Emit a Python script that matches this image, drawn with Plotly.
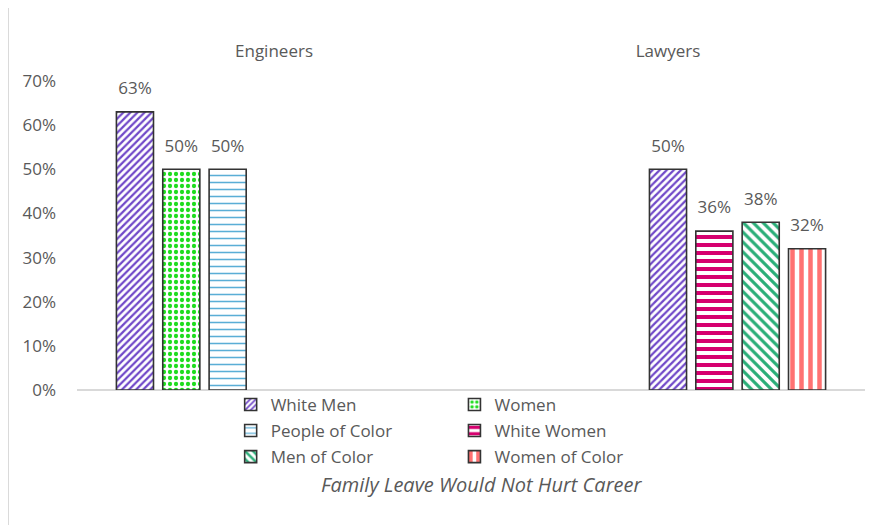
import plotly.graph_objects as go

# data
categories = ["Engineers", "Lawyers"]
engineer_groups = ["White Men", "Women", "People of Color"]
engineer_values = [63, 50, 50]
lawyer_groups = ["White Men", "White Women", "Men of Color", "Women of Color"]
lawyer_values = [50, 36, 38, 32]
y_ticks = [0, 10, 20, 30, 40, 50, 60, 70]
x_title = "Family Leave Would Not Hurt Career"

# colour, pattern shape, pattern size, solidity
styles = {
    "White Men": ("#7048C8", "/", 5, 0.45),
    "Women": ("#1EDC1E", ".", 6, 0.4),
    "People of Color": ("#5AAED6", "-", 7, 0.22),  # wavy in the original
    "White Women": ("#D6006F", "-", 8, 0.5),
    "Men of Color": ("#2AAE78", "\\", 7, 0.45),
    "Women of Color": ("#FF7272", "|", 9, 0.5),
}
second_column = {"Women", "White Women", "Women of Color"}
grey = "#595959"
font_name = "Open Sans"
fsize = 17

series = [(categories[0], g, v) for g, v in zip(engineer_groups, engineer_values)]
series += [(categories[1], g, v) for g, v in zip(lawyer_groups, lawyer_values)]

fig = go.Figure()
seen = set()
for i, (cat, group, val) in enumerate(series):
    color, shape, size, solid = styles[group]
    fig.add_trace(go.Bar(
        x=[cat], y=[val], name=group,
        offsetgroup=str(i), legendgroup=group,
        showlegend=group not in seen,
        legend="legend2" if group in second_column else "legend",
        marker=dict(color=color,
                    line=dict(color="#333333", width=1.6),
                    pattern=dict(shape=shape, fgcolor=color, bgcolor="white",
                                 size=size, solidity=solid, fillmode="replace")),
        hoverinfo="skip",
    ))
    seen.add(group)

# value labels, grouped the same way as the bars
for i, (cat, group, val) in enumerate(series):
    fig.add_trace(go.Scatter(
        x=[cat], y=[val], mode="markers+text", offsetgroup=str(i),
        text=[f"{val}%"], textposition="top center",
        textfont=dict(family=font_name, size=fsize, color=grey),
        marker=dict(size=20, opacity=0), showlegend=False, hoverinfo="skip",
        cliponaxis=False,
    ))

legend_style = dict(orientation="v", xanchor="left", yanchor="top",
                    font=dict(family=font_name, size=fsize, color=grey),
                    bgcolor="rgba(0,0,0,0)", tracegroupgap=1, itemclick=False)

# the page body adds 8px on the left and top, so margins are trimmed by 8
fig.update_layout(
    width=888, height=525,
    margin=dict(l=69, r=31, t=73, b=143),
    plot_bgcolor="white", paper_bgcolor="white",
    barmode="group", bargap=0.1765, bargroupgap=0.2,
    scattermode="group", scattergap=0.1765,
    font=dict(family=font_name, size=fsize, color=grey),
    xaxis=dict(side="top", categoryorder="array", categoryarray=categories,
               showline=False, showgrid=False, ticks="", automargin=False,
               ticklabelstandoff=20, tickfont=dict(size=fsize, color=grey)),
    yaxis=dict(range=[0, 70], tickvals=y_ticks, ticktext=[f"{t}%" for t in y_ticks],
               showgrid=False, showline=False, ticks="", automargin=False,
               zeroline=True, zerolinecolor="#D9D9D9", zerolinewidth=2,
               ticklabelstandoff=20, tickfont=dict(size=fsize, color=grey)),
    legend=dict(x=0.195, y=0.01, **legend_style),
    legend2=dict(x=0.479, y=0.01, **legend_style),
    annotations=[dict(text=x_title, xref="paper", yref="paper", x=0.513, y=-0.307,
                      yanchor="middle", showarrow=False,
                      font=dict(family=font_name, size=20, color=grey,
                                style="italic"))],
    shapes=[
        dict(type="line", xref="paper", yref="paper", x0=-0.0876, x1=-0.0876,
             y0=-0.5, y1=1.2415, line=dict(color="#D9D9D9", width=2)),
        dict(type="line", xref="paper", yref="paper", x0=-0.0876, x1=1.05,
             y0=1.2415, y1=1.2415, line=dict(color="#D9D9D9", width=2)),
    ],
)

fig.write_html("out.html")
